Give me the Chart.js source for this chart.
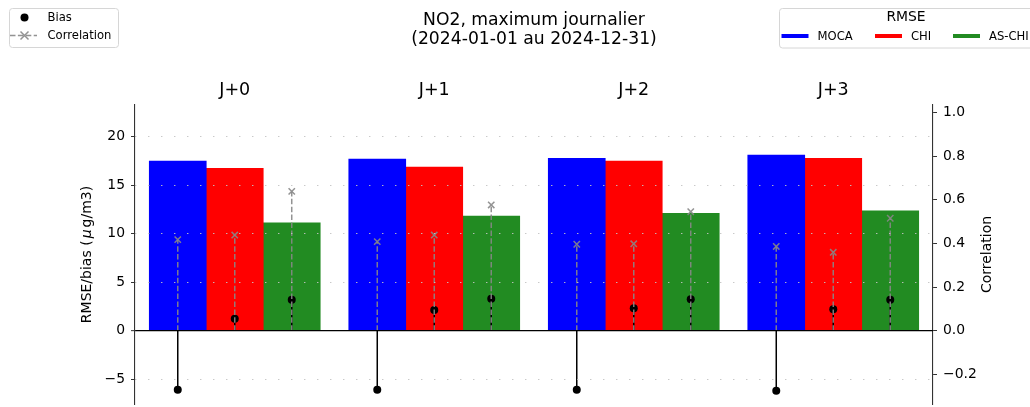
<!DOCTYPE html>
<html>
<head>
<meta charset="utf-8">
<script src="https://cdn.jsdelivr.net/npm/chart.js@4.4.1/dist/chart.umd.min.js"></script>
<style>
  html, body { margin: 0; padding: 0; background: #fff; overflow: hidden; }
  canvas { display: block; }
</style>
</head>
<body>
<canvas id="chart" width="1030" height="407"></canvas>
<script>
// Forecast horizons and models
const horizons = ['J+0', 'J+1', 'J+2', 'J+3'];
const models = ['MOCA', 'CHI', 'AS-CHI'];
const modelColors = ['#0000ff', '#ff0000', '#228b22'];

// RMSE (µg/m3) per horizon
const rmseMOCA  = [17.50, 17.70, 17.77, 18.10];
const rmseCHI   = [16.74, 16.88, 17.50, 17.77];
const rmseASCHI = [11.13, 11.82, 12.10, 12.37];

// Bias (µg/m3) per horizon
const biasMOCA  = [-6.10, -6.10, -6.10, -6.20];
const biasCHI   = [1.24, 2.13, 2.30, 2.20];
const biasASCHI = [3.20, 3.30, 3.23, 3.20];

// Correlation per horizon
const corrMOCA  = [0.417, 0.408, 0.396, 0.386];
const corrCHI   = [0.438, 0.438, 0.398, 0.359];
const corrASCHI = [0.638, 0.576, 0.545, 0.515];

const titleLines = ['NO2, maximum journalier', '(2024-01-01 au 2024-12-31)'];
const leftAxisRange = [-7.56, 23.27];
const rightAxisRange = [-0.3356, 1.0336];
const leftTickStep = 5;
const rightTickStep = 0.2;

const rmseSeries = [rmseMOCA, rmseCHI, rmseASCHI];
const biasSeries = [biasMOCA, biasCHI, biasASCHI];
const corrSeries = [corrMOCA, corrCHI, corrASCHI];

// bars of a group share this fraction of a horizon slot
const GROUP_SPAN = 0.857;
const BAR_SPAN = GROUP_SPAN / models.length;
const FONT = '"DejaVu Sans", sans-serif';
const CORR_GREY = 'rgba(135,135,135,0.9)';

// centre of model k's bar within horizon i
function slotX(i, k) {
  return i + (k - (models.length - 1) / 2) * BAR_SPAN;
}
function seriesPoints(vals, k) {
  return vals.map((v, i) => ({ x: slotX(i, k), y: v }));
}
// vertical stems from zero to each value, separated by gaps
function stemPoints(series) {
  const pts = [];
  series.forEach((vals, k) => vals.forEach((v, i) => {
    const x = slotX(i, k);
    pts.push({ x, y: 0 }, { x, y: v }, { x, y: null });
  }));
  return pts;
}
function tipPoints(series) {
  const pts = [];
  series.forEach((vals, k) => pts.push(...seriesPoints(vals, k)));
  return pts;
}

const minus = (s) => s.replace('-', '\u2212');

const barSets = models.map((m, k) => ({
  type: 'bar',
  label: m,
  data: seriesPoints(rmseSeries[k], k),
  backgroundColor: modelColors[k],
  borderWidth: 0,
  xAxisID: 'xl',
  yAxisID: 'y',
  grouped: false,
  categoryPercentage: 1.0,
  barPercentage: 1.0,
  order: 5
}));

const overlay = {
  id: 'overlay',
  afterDraw(chart) {
    const { ctx, chartArea: a } = chart;
    const cx = (a.left + a.right) / 2;
    const cy = (a.top + a.bottom) / 2;
    ctx.save();
    ctx.fillStyle = '#000';

    // title
    ctx.font = '17.2px ' + FONT;
    ctx.textAlign = 'center';
    ctx.textBaseline = 'alphabetic';
    ctx.fillText(titleLines[0], cx, 24.5);
    ctx.fillText(titleLines[1], cx, 44);

    // left axis title with italic mu
    const parts = [['RMSE/bias (', 'normal', 0], ['\u03bc', 'italic', 2], ['g/m3)', 'normal', 0]];
    const fontFor = (st) => (st === 'italic' ? 'italic ' : '') + '14px ' + FONT;
    let total = 0;
    parts.forEach(([t, st, pad]) => { ctx.font = fontFor(st); total += ctx.measureText(t).width + 2 * pad; });
    ctx.save();
    ctx.translate(91, cy);
    ctx.rotate(-Math.PI / 2);
    ctx.textAlign = 'left';
    let px = -total / 2;
    parts.forEach(([t, st, pad]) => {
      ctx.font = fontFor(st);
      ctx.fillText(t, px + pad, 0);
      px += ctx.measureText(t).width + 2 * pad;
    });
    ctx.restore();

    // right axis title
    ctx.save();
    ctx.translate(991, cy);
    ctx.rotate(-Math.PI / 2);
    ctx.textAlign = 'center';
    ctx.font = '14px ' + FONT;
    ctx.fillText('Correlation', 0, 0);
    ctx.restore();

    // legend: bias / correlation markers
    ctx.lineWidth = 1;
    ctx.strokeStyle = '#d6d6d6';
    ctx.fillStyle = 'rgba(255,255,255,0.85)';
    ctx.beginPath();
    ctx.roundRect(9.5, 8.5, 109, 39, 3);
    ctx.fill();
    ctx.stroke();

    ctx.fillStyle = '#000';
    ctx.beginPath();
    ctx.arc(24.5, 17.5, 4, 0, Math.PI * 2);
    ctx.fill();

    ctx.strokeStyle = CORR_GREY;
    ctx.lineWidth = 1.5;
    ctx.setLineDash([5.5, 2.4]);
    ctx.beginPath();
    ctx.moveTo(10, 35.5);
    ctx.lineTo(37, 35.5);
    ctx.stroke();
    ctx.setLineDash([]);
    ctx.beginPath();
    ctx.moveTo(20.5, 31.5); ctx.lineTo(28.5, 39.5);
    ctx.moveTo(28.5, 31.5); ctx.lineTo(20.5, 39.5);
    ctx.stroke();

    ctx.fillStyle = '#000';
    ctx.font = '11.6px ' + FONT;
    ctx.textAlign = 'left';
    ctx.textBaseline = 'middle';
    ctx.fillText('Bias', 47.5, 17.5);
    ctx.fillText('Correlation', 47.5, 35.5);

    // legend: RMSE per model
    ctx.lineWidth = 1;
    ctx.strokeStyle = '#d6d6d6';
    ctx.fillStyle = 'rgba(255,255,255,0.85)';
    ctx.beginPath();
    ctx.roundRect(779.5, 8.5, 270, 39.5, 3);
    ctx.fill();
    ctx.stroke();

    ctx.fillStyle = '#000';
    ctx.font = '13.9px ' + FONT;
    ctx.textAlign = 'center';
    ctx.fillText('RMSE', 906, 17);

    const lineStarts = [781.5, 875, 953];
    ctx.font = '11.6px ' + FONT;
    ctx.textAlign = 'left';
    models.forEach((m, k) => {
      ctx.strokeStyle = modelColors[k];
      ctx.lineWidth = 4;
      ctx.beginPath();
      ctx.moveTo(lineStarts[k], 36);
      ctx.lineTo(lineStarts[k] + 27, 36);
      ctx.stroke();
      ctx.fillStyle = '#000';
      ctx.fillText(m, lineStarts[k] + 36, 36.5);
    });
    ctx.restore();
  }
};

// vertical axes: no extra room reserved for end labels
const noEndPadding = (s) => { s.paddingTop = 0; s.paddingBottom = 0; };

new Chart(document.getElementById('chart'), {
  data: {
    labels: horizons,
    datasets: [
      ...barSets,
      {
        type: 'line', label: 'Bias stems', data: stemPoints(biasSeries),
        xAxisID: 'xl', yAxisID: 'y', borderColor: '#000', borderWidth: 1.5,
        pointRadius: 0, spanGaps: false, fill: false, order: 4
      },
      {
        type: 'scatter', label: 'Bias', data: tipPoints(biasSeries),
        xAxisID: 'xl', yAxisID: 'y', pointStyle: 'circle', pointRadius: 4,
        backgroundColor: '#000', borderWidth: 0, order: 3
      },
      {
        type: 'line', label: 'Correlation stems', data: stemPoints(corrSeries),
        xAxisID: 'xl', yAxisID: 'y2', borderColor: CORR_GREY, borderWidth: 1.5,
        borderDash: [5.5, 2.4], pointRadius: 0, spanGaps: false, fill: false, order: 2
      },
      {
        type: 'scatter', label: 'Correlation', data: tipPoints(corrSeries),
        xAxisID: 'xl', yAxisID: 'y2', pointStyle: 'crossRot', pointRadius: 4.5,
        borderColor: CORR_GREY, borderWidth: 1.5, order: 1
      }
    ]
  },
  options: {
    responsive: false,
    devicePixelRatio: 1,
    animation: false,
    events: [],
    layout: { autoPadding: false, padding: { left: 0, right: 0, top: 0, bottom: 3 } },
    plugins: { legend: { display: false }, tooltip: { enabled: false }, title: { display: false } },
    scales: {
      x: {
        type: 'category',
        position: 'top',
        offset: true,
        grid: { display: false, drawTicks: false },
        border: { display: false },
        ticks: { color: '#000', font: { family: FONT, size: 17.5 }, padding: 4, maxRotation: 0 },
        afterFit(s) { s.height = 105; }
      },
      xl: {
        type: 'linear',
        display: false,
        offset: false,
        grid: { offset: false },
        min: -0.5,
        max: horizons.length - 0.5,
        ticks: { stepSize: 1 }
      },
      y: {
        type: 'linear',
        position: 'left',
        min: leftAxisRange[0],
        max: leftAxisRange[1],
        ticks: {
          stepSize: leftTickStep,
          includeBounds: false,
          color: '#000',
          font: { family: FONT, size: 13.9 },
          padding: 6,
          callback: (v) => minus(String(v))
        },
        grid: {
          z: 1,
          color: (c) => (c.tick && c.tick.value === 0 ? '#000' : '#c4c4c4'),
          lineWidth: (c) => (c.tick && c.tick.value === 0 ? 1.3 : 1),
          tickColor: '#333',
          tickWidth: 1,
          tickLength: 4
        },
        border: {
          z: 1,
          color: '#333',
          width: 1.1,
          dash: (c) => (c.tick && c.tick.value === 0 ? [] : [1.3, 11.7])
        },
        afterFit(s) { s.width = 135; noEndPadding(s); }
      },
      y2: {
        type: 'linear',
        position: 'right',
        min: rightAxisRange[0],
        max: rightAxisRange[1],
        ticks: {
          stepSize: rightTickStep,
          includeBounds: false,
          color: '#000',
          font: { family: FONT, size: 13.9 },
          padding: 6,
          callback: (v) => minus(Number(v).toFixed(1))
        },
        grid: { drawOnChartArea: false, tickColor: '#333', tickWidth: 1, tickLength: 4 },
        border: { color: '#333', width: 1.1 },
        afterFit(s) { s.width = 97; noEndPadding(s); }
      }
    }
  },
  plugins: [overlay]
});
</script>
</body>
</html>
